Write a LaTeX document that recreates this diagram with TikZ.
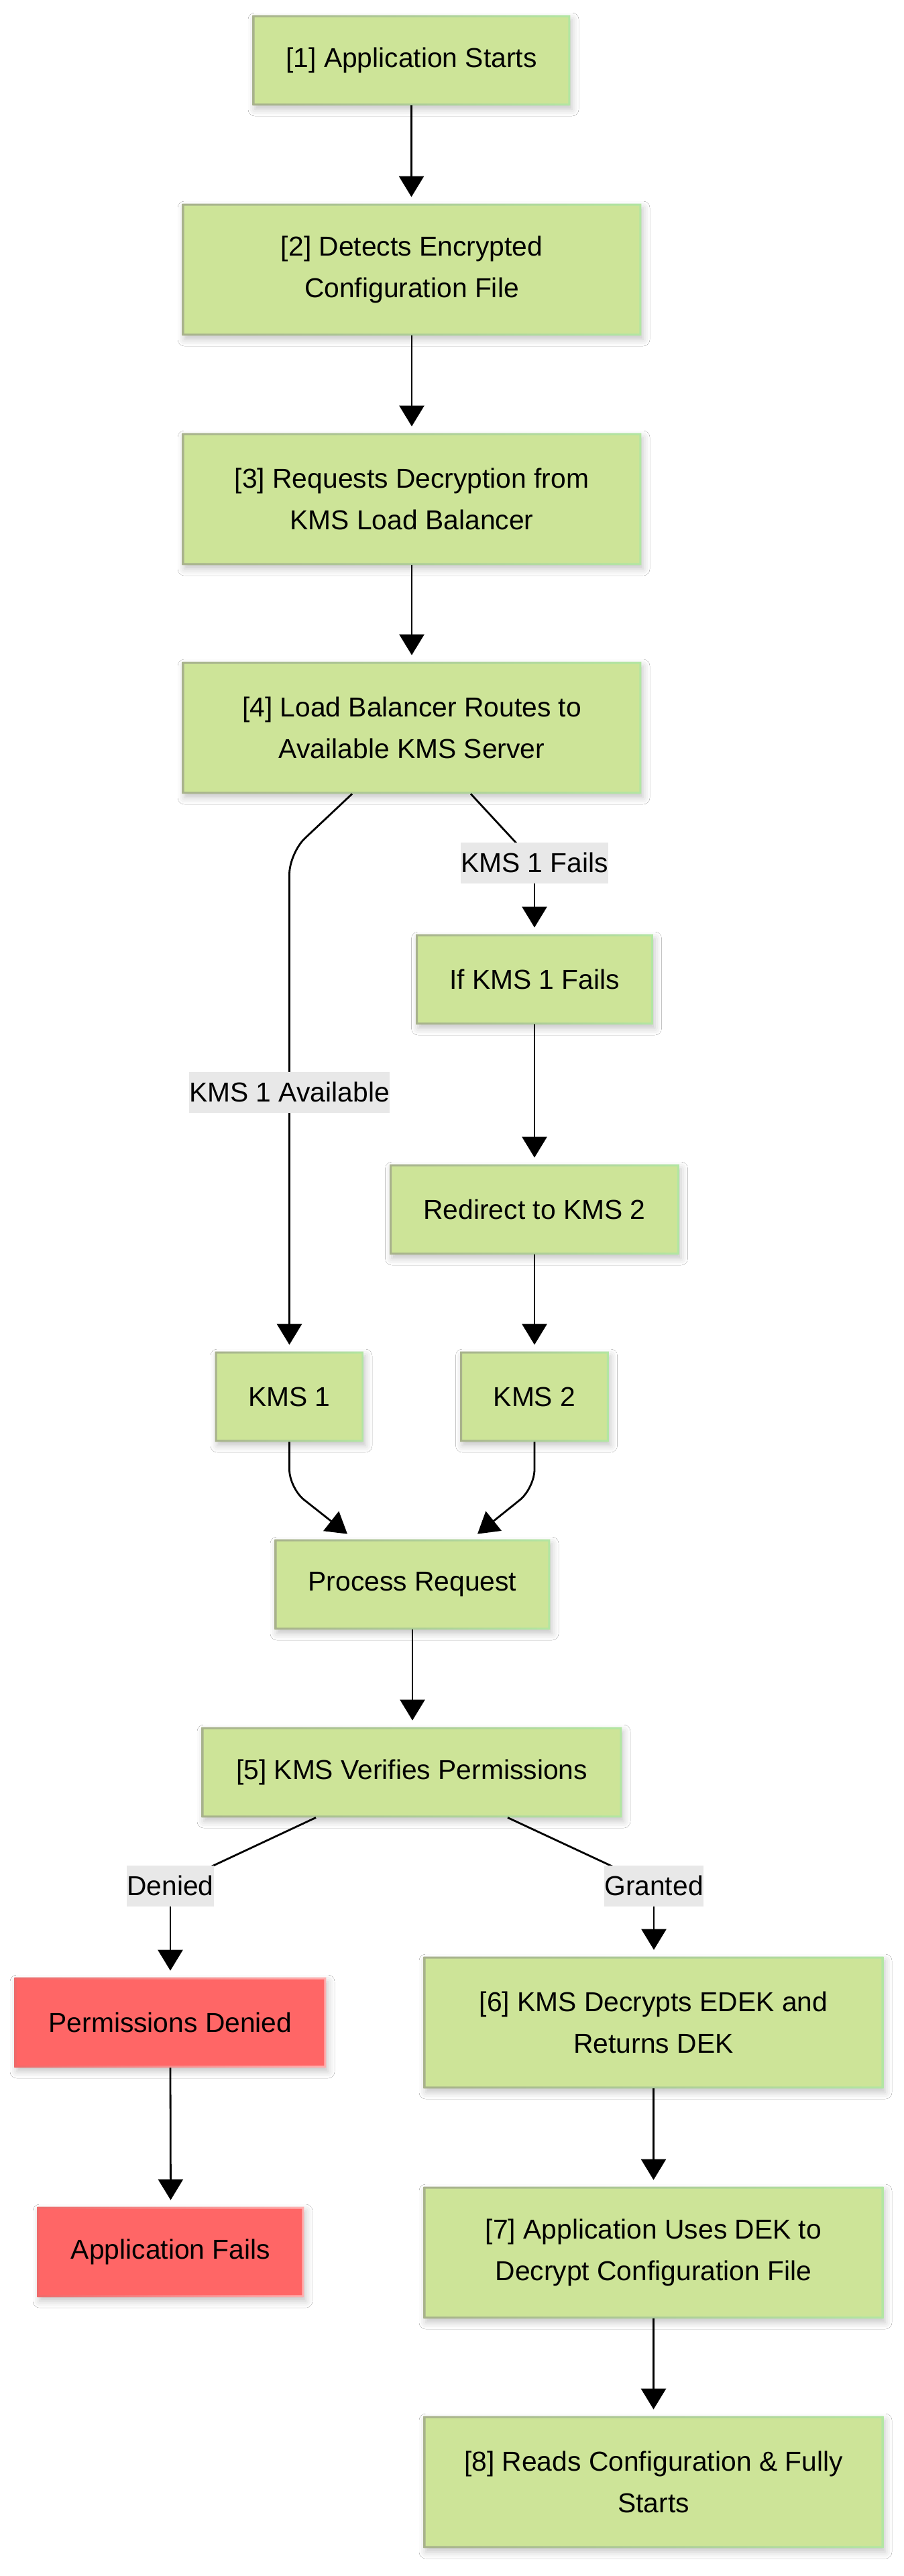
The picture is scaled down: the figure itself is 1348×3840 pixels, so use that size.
\documentclass[tikz,border=0pt]{standalone}
\usepackage{fontspec}
\setmainfont{Liberation Sans}
\usetikzlibrary{arrows.meta,calc,shadows.blur}
\definecolor{boxgreen}{HTML}{CDE498}
\definecolor{bordL}{HTML}{A8B28C}
\definecolor{bordR}{HTML}{B2E6A2}
\definecolor{boxred}{HTML}{FF6666}
\definecolor{redL}{HTML}{EE6A6A}
\definecolor{redR}{HTML}{FFAFAF}
\definecolor{lblgray}{HTML}{E8E8E8}
\begin{document}
\begin{tikzpicture}[x=0.5pt,y=-0.5pt,
  box/.style={rectangle, fill=boxgreen, inner sep=0pt, align=center,
    font=\fontsize{20.4pt}{31pt}\selectfont, minimum height=67pt,
    blur shadow={shadow xshift=1.5pt, shadow yshift=-3pt, shadow blur radius=5pt, shadow opacity=22}},
  tall/.style={minimum height=98pt},
  bw/.style={minimum width={#1*0.5pt}},
  redbox/.style={box, fill=boxred},
  lbl/.style={fill=lblgray, inner sep=0pt, minimum height=30.5pt,
    font=\fontsize{20.4pt}{31pt}\selectfont},
  edge/.style={line width=1.4pt, draw=black},
  arr/.style={edge, -{Triangle[length=15.5pt,width=18.5pt]}, shorten >=5pt},
]
\useasboundingbox[fill=white] (0,0) rectangle (1348,3840);

% nodes
\node[box,bw=473] (b1) at (613.5,90) {[1] Application Starts};
\node[box,tall,bw=684] (b2) at (614,402) {[2] Detects Encrypted\\Configuration File};
\node[box,tall,bw=684] (b3) at (614,744) {[3] Requests Decryption from\\KMS Load Balancer};
\node[box,tall,bw=684] (b4) at (614,1085) {[4] Load Balancer Routes to\\Available KMS Server};
\node[box,bw=353] (f1) at (797,1460) {If KMS 1 Fails};
\node[box,bw=431] (rd) at (797,1803) {Redirect to KMS 2};
\node[box,bw=221] (k1) at (431.5,2082) {KMS 1};
\node[box,bw=221] (k2) at (797,2082) {KMS 2};
\node[box,bw=410] (pr) at (615,2362) {Process Request};
\node[box,bw=626] (b5) at (614,2642) {[5] KMS Verifies Permissions};
\node[redbox,bw=464] (pd) at (254,3015) {Permissions Denied};
\node[redbox,bw=397] (af) at (254.5,3357) {Application Fails};
\node[box,tall,bw=685] (b6) at (974.5,3015) {[6] KMS Decrypts EDEK and\\Returns DEK};
\node[box,tall,bw=685] (b7) at (974.5,3358) {[7] Application Uses DEK to\\Decrypt Configuration File};
\node[box,tall,bw=685] (b8) at (974.5,3700) {[8] Reads Configuration \& Fully\\Starts};

% borders
\foreach \n in {b1,b2,b3,b4,f1,rd,k1,k2,pr,b5,b6,b7,b8}
  \shade[left color=bordL, right color=bordR, even odd rule]
    (\n.south west) rectangle (\n.north east)
    ([shift={(1.5pt,1.5pt)}]\n.south west) rectangle ([shift={(-1.5pt,-1.5pt)}]\n.north east);
\foreach \n in {pd,af}
  \shade[left color=redL, right color=redR, even odd rule]
    (\n.south west) rectangle (\n.north east)
    ([shift={(1.5pt,1.5pt)}]\n.south west) rectangle ([shift={(-1.5pt,-1.5pt)}]\n.north east);

% label positions
\coordinate (lf) at (797,1286);
\coordinate (la) at (431.5,1628);
\coordinate (ld) at (254,2811);
\coordinate (lg) at (975,2811);

% edges
\draw[arr] (b1.south) -- (b1.south |- b2.north);
\draw[arr] (b2.south) -- (b3.north);
\draw[arr] (b3.south) -- (b4.north);
\draw[arr, rounded corners=16pt] ($(b4.south)+(-89,0)$) -- ($(k1.north |- b4.south)+(0,88)$) -- (k1.north);
\draw[edge] ($(b4.south)+(88,0)$) -- (lf);
\draw[arr] (lf) -- (lf |- f1.north);
\draw[arr] (f1.south) -- (rd.north);
\draw[arr] (rd.south) -- (k2.north);
\draw[arr, shorten >=0pt, rounded corners=14pt] (k1.south) -- ($(k1.south)+(0,69)$) -- ($(pr.north)+(-97,-8)$);
\draw[arr, shorten >=0pt, rounded corners=14pt] (k2.south) -- ($(k2.south)+(0,69)$) -- ($(pr.north)+(97,-8)$);
\draw[arr] (pr.south) -- (pr.south |- b5.north);
\draw[edge] ($(b5.south)+(-143,0)$) -- (ld);
\draw[arr] (ld) -- (ld |- pd.north);
\draw[edge] ($(b5.south)+(143,0)$) -- (lg);
\draw[arr] (lg) -- (lg |- b6.north);
\draw[arr] (pd.south) -- (af.north);
\draw[arr] (b6.south) -- (b7.north);
\draw[arr] (b7.south) -- (b8.north);

% labels
\node[lbl] (flab) at (lf) {KMS 1 Fails};
\node[lbl] (alab) at (la) {KMS 1 Available};
\node[lbl] (dlab) at (ld) {Denied};
\node[lbl] (glab) at (lg) {Granted};
\end{tikzpicture}
\end{document}
